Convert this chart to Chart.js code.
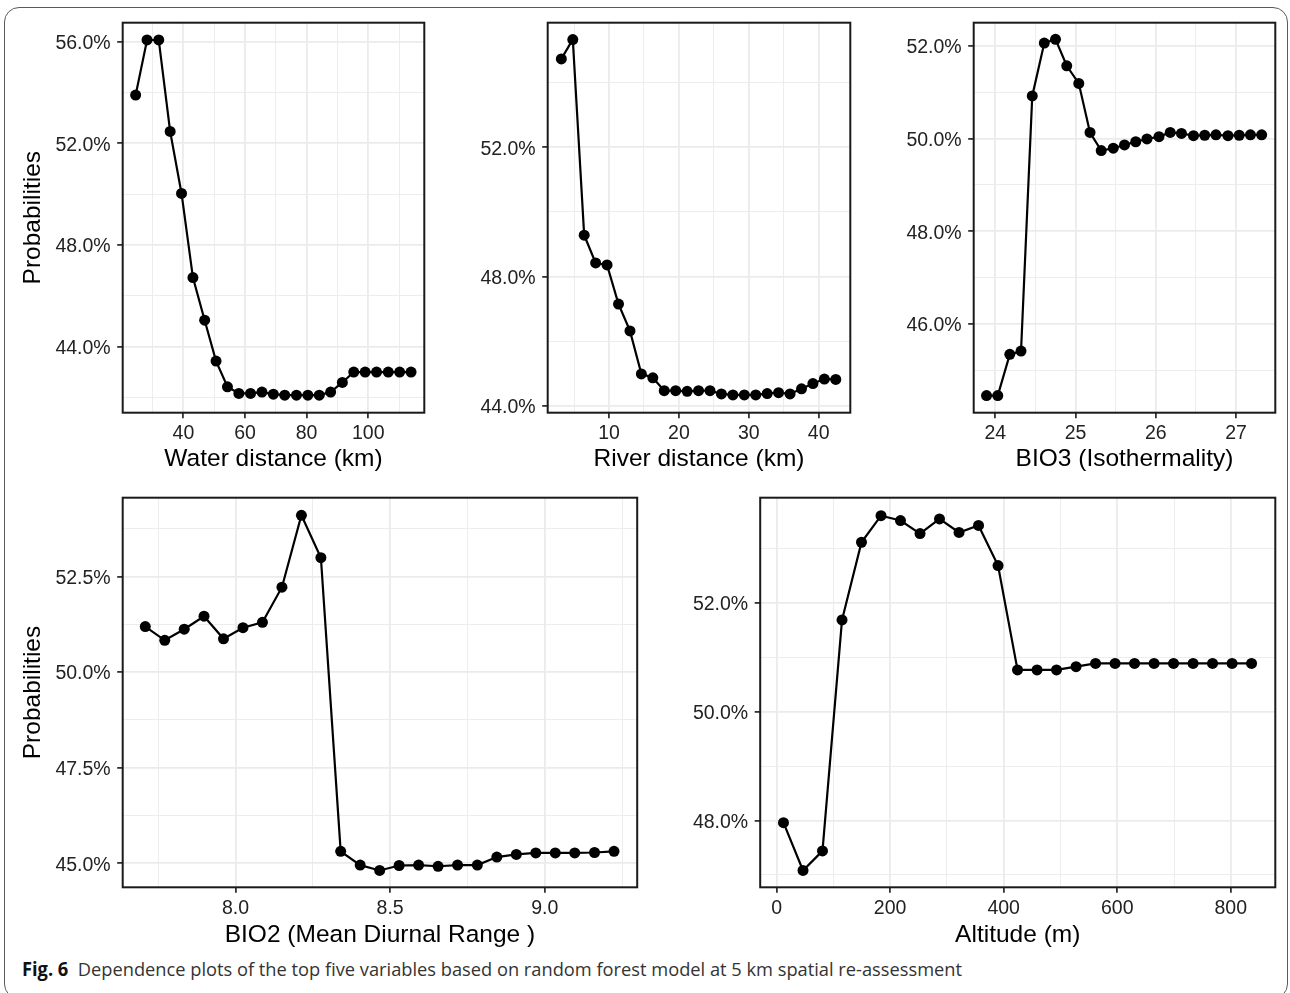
<!DOCTYPE html>
<html>
<head>
<meta charset="utf-8">
<script src="https://cdn.jsdelivr.net/npm/chart.js@4.4.1/dist/chart.umd.min.js"></script>
<style>
  body { margin: 0; background: #fff; width: 1290px; height: 993px; overflow: hidden; position: relative; }
  .frame { position: absolute; left: 4px; top: 7px; width: 1284px; height: 992px; border: 1.5px solid #5a5a5a; border-radius: 15px; box-sizing: border-box; }
  canvas { position: absolute; }
  #caption { position: absolute; left: 22px; top: 960px; font-family: 'Open Sans', sans-serif; font-size: 19px; line-height: 1; white-space: nowrap; color: #333; transform-origin: left top; }
  #caption b { color: #111; }
</style>
</head>
<body>
<div class="frame"></div>
<canvas id="water" width="420" height="470" style="left:10px;top:10px"></canvas>
<canvas id="river" width="420" height="470" style="left:440px;top:10px"></canvas>
<canvas id="bio3" width="415" height="470" style="left:870px;top:10px"></canvas>
<canvas id="bio2" width="640" height="460" style="left:10px;top:490px"></canvas>
<canvas id="alt" width="625" height="460" style="left:660px;top:490px"></canvas>
<div id="caption"><b>Fig. 6</b>&nbsp; Dependence plots of the top five variables based on random forest model at 5 km spatial re-assessment</div>
<script>
// Water distance (km)
const waterX = [24.5, 28.2, 32.0, 35.7, 39.4, 43.1, 46.9, 50.6, 54.3, 58.0, 61.8, 65.5, 69.2,
  72.9, 76.7, 80.4, 84.1, 87.8, 91.6, 95.3, 99.0, 102.7, 106.5, 110.2, 113.9];
const waterY = [53.9, 56.07, 56.07, 52.47, 50.03, 46.72, 45.04, 43.43, 42.42, 42.16, 42.16, 42.21, 42.13,
  42.09, 42.09, 42.09, 42.09, 42.21, 42.59, 43.0, 43.0, 43.0, 43.0, 43.0, 43.0];
const waterTicksX = [40, 60, 80, 100];
const waterMinorX = [30, 50, 70, 90, 110];
const waterTicksY = [44, 48, 52, 56];
const waterMinorY = [42, 46, 50, 54];

// River distance (km)
const riverX = [3.18, 4.82, 6.45, 8.09, 9.72, 11.36, 13.0, 14.63, 16.27, 17.9, 19.54, 21.18, 22.81,
  24.45, 26.08, 27.72, 29.36, 30.99, 32.63, 34.26, 35.9, 37.54, 39.17, 40.81, 42.44];
const riverY = [54.73, 55.33, 49.28, 48.42, 48.36, 47.15, 46.32, 44.99, 44.87, 44.47, 44.47, 44.45, 44.47,
  44.47, 44.37, 44.34, 44.34, 44.34, 44.38, 44.41, 44.37, 44.53, 44.69, 44.83, 44.82];
const riverTicksX = [10, 20, 30, 40];
const riverMinorX = [5, 15, 25, 35];
const riverTicksY = [44, 48, 52];
const riverMinorY = [46, 50, 54];

// BIO3 (Isothermality)
const bio3X = [23.89, 24.03, 24.18, 24.32, 24.46, 24.61, 24.75, 24.89, 25.04, 25.18, 25.32, 25.47, 25.61,
  25.75, 25.89, 26.04, 26.18, 26.32, 26.47, 26.61, 26.75, 26.90, 27.04, 27.18, 27.32];
const bio3Y = [44.45, 44.45, 45.34, 45.41, 50.92, 52.06, 52.14, 51.57, 51.19, 50.13, 49.74, 49.79, 49.86,
  49.93, 49.99, 50.04, 50.13, 50.11, 50.06, 50.07, 50.08, 50.06, 50.07, 50.08, 50.08];
const bio3TicksX = [24, 25, 26, 27];
const bio3MinorX = [24.5, 25.5, 26.5];
const bio3TicksY = [46, 48, 50, 52];
const bio3MinorY = [45, 47, 49, 51];

// BIO2 (Mean Diurnal Range)
const bio2X = [7.708, 7.771, 7.834, 7.898, 7.961, 8.024, 8.087, 8.150, 8.213, 8.276, 8.340, 8.403, 8.466,
  8.529, 8.592, 8.655, 8.718, 8.782, 8.845, 8.908, 8.971, 9.034, 9.097, 9.161, 9.224];
const bio2Y = [51.19, 50.83, 51.12, 51.46, 50.87, 51.16, 51.30, 52.22, 54.10, 52.99, 45.31, 44.95, 44.81,
  44.94, 44.95, 44.92, 44.95, 44.95, 45.16, 45.23, 45.27, 45.27, 45.27, 45.28, 45.31];
const bio2TicksX = [8.0, 8.5, 9.0];
const bio2MinorX = [7.75, 8.25, 8.75, 9.25];
const bio2TicksY = [45, 47.5, 50, 52.5];
const bio2MinorY = [46.25, 48.75, 51.25, 53.75];

// Altitude (m)
const altX = [12.2, 46.6, 80.9, 115.3, 149.6, 184.0, 218.3, 252.7, 287.0, 321.4, 355.7, 390.1, 424.4,
  458.8, 493.1, 527.5, 561.8, 596.2, 630.5, 664.9, 699.2, 733.6, 767.9, 802.3, 836.6];
const altY = [47.96, 47.08, 47.44, 51.69, 53.12, 53.61, 53.52, 53.28, 53.55, 53.30, 53.43, 52.69, 50.77,
  50.77, 50.77, 50.83, 50.89, 50.89, 50.89, 50.89, 50.89, 50.89, 50.89, 50.89, 50.89];
const altTicksX = [0, 200, 400, 600, 800];
const altMinorX = [100, 300, 500, 700];
const altTicksY = [48, 50, 52];
const altMinorY = [47, 49, 51, 53];

const FONT = "'Liberation Sans', Arial, sans-serif";
Chart.defaults.font.family = FONT;

// draws the black panel box like ggplot's theme_bw
const panelBorder = {
  id: 'panelBorder',
  afterDraw(chart) {
    const { ctx, chartArea: a } = chart;
    ctx.save();
    ctx.strokeStyle = '#1a1a1a';
    ctx.lineWidth = 2;
    ctx.strokeRect(a.left, a.top, a.right - a.left, a.bottom - a.top);
    ctx.restore();
  }
};

const isIn = (list, v) => list.some(t => Math.abs(t - v) < 1e-6);
const pct = v => v.toFixed(1) + '%';

function axis(o) {
  return {
    type: 'linear',
    min: o.min,
    max: o.max,
    afterBuildTicks: s => {
      s.ticks = o.major.concat(o.minor).sort((a, b) => a - b).map(v => ({ value: v }));
    },
    afterFit: s => {
      if (o.size.w !== undefined) s.width = o.size.w;
      if (o.size.h !== undefined) s.height = o.size.h;
      s.paddingTop = 0; s.paddingBottom = 0; s.paddingLeft = 0; s.paddingRight = 0;
    },
    border: { display: false },
    grid: {
      color: '#ebebeb',
      lineWidth: c => isIn(o.major, c.tick.value) ? 1.8 : 0.9,
      drawTicks: true,
      tickLength: 5.5,
      tickWidth: 1.8,
      tickColor: c => isIn(o.major, c.tick.value) ? '#333' : 'rgba(0,0,0,0)'
    },
    ticks: {
      autoSkip: false,
      maxRotation: 0,
      padding: o.pad,
      labelOffset: o.shift || 0,
      color: '#222',
      font: { size: 19.5, family: FONT },
      callback: v => isIn(o.major, v) ? o.fmt(v) : ''
    },
    title: {
      display: !!o.title,
      text: o.title || '',
      color: '#000',
      font: { size: 24.5, family: FONT },
      padding: o.titlePad
    }
  };
}

function panel(id, xs, ys, c) {
  return new Chart(document.getElementById(id), {
    type: 'line',
    data: {
      datasets: [{
        data: xs.map((x, i) => ({ x: x, y: ys[i] })),
        borderColor: '#000',
        backgroundColor: '#000',
        borderWidth: 2.2,
        pointRadius: 5.5,
        pointBorderWidth: 0,
        tension: 0
      }]
    },
    options: {
      responsive: false,
      animation: false,
      layout: { padding: { top: c.padTop, right: c.padRight, left: 0, bottom: 0 } },
      plugins: { legend: { display: false }, tooltip: { enabled: false } },
      scales: {
        x: axis({ min: c.x[0], max: c.x[1], major: c.xMajor, minor: c.xMinor, fmt: c.xFmt,
          size: { h: c.xAxisH }, pad: 4, title: c.xTitle, titlePad: { top: 0, bottom: c.xTitlePad } }),
        y: axis({ min: c.y[0], max: c.y[1], major: c.yMajor, minor: c.yMinor, fmt: pct,
          size: { w: c.yAxisW }, pad: 6.5, shift: 2, title: c.yTitle, titlePad: { top: 8.3, bottom: 0 } })
      }
    },
    plugins: [panelBorder]
  });
}

const intFmt = v => String(Math.round(v));

panel('water', waterX, waterY, {
  padTop: 12.7, padRight: 5.7, yAxisW: 112.7, xAxisH: 67.3,
  x: [20.3, 118.2], y: [41.4, 56.75],
  xMajor: waterTicksX, xMinor: waterMinorX, yMajor: waterTicksY, yMinor: waterMinorY, xFmt: intFmt,
  xTitle: 'Water distance (km)', xTitlePad: 6.3, yTitle: 'Probabilities'
});
panel('river', riverX, riverY, {
  padTop: 12.7, padRight: 9.7, yAxisW: 107.7, xAxisH: 67.3,
  x: [1.23, 44.52], y: [43.79, 55.85],
  xMajor: riverTicksX, xMinor: riverMinorX, yMajor: riverTicksY, yMinor: riverMinorY, xFmt: intFmt,
  xTitle: 'River distance (km)', xTitlePad: 6.3
});
panel('bio3', bio3X, bio3Y, {
  padTop: 12.7, padRight: 9.7, yAxisW: 103.7, xAxisH: 67.3,
  x: [23.73, 27.49], y: [44.08, 52.5],
  xMajor: bio3TicksX, xMinor: bio3MinorX, yMajor: bio3TicksY, yMinor: bio3MinorY, xFmt: intFmt,
  xTitle: 'BIO3 (Isothermality)', xTitlePad: 6.3
});
panel('bio2', bio2X, bio2Y, {
  padTop: 7.7, padRight: 12.8, yAxisW: 112.7, xAxisH: 62.7,
  x: [7.635, 9.299], y: [44.37, 54.56],
  xMajor: bio2TicksX, xMinor: bio2MinorX, yMajor: bio2TicksY, yMinor: bio2MinorY,
  xFmt: v => v.toFixed(1),
  xTitle: 'BIO2 (Mean Diurnal Range )', xTitlePad: 0.3, yTitle: 'Probabilities'
});
panel('alt', altX, altY, {
  padTop: 7.7, padRight: 9.7, yAxisW: 100.2, xAxisH: 62.7,
  x: [-28.8, 878.4], y: [46.77, 53.94],
  xMajor: altTicksX, xMinor: altMinorX, yMajor: altTicksY, yMinor: altMinorY, xFmt: intFmt,
  xTitle: 'Altitude (m)', xTitlePad: 0.3
});

// squeeze the caption to the width it has in the figure
const cap = document.getElementById('caption');
const capW = cap.getBoundingClientRect().width;
cap.style.transform = 'scaleX(' + (940 / capW) + ')';
</script>
</body>
</html>
